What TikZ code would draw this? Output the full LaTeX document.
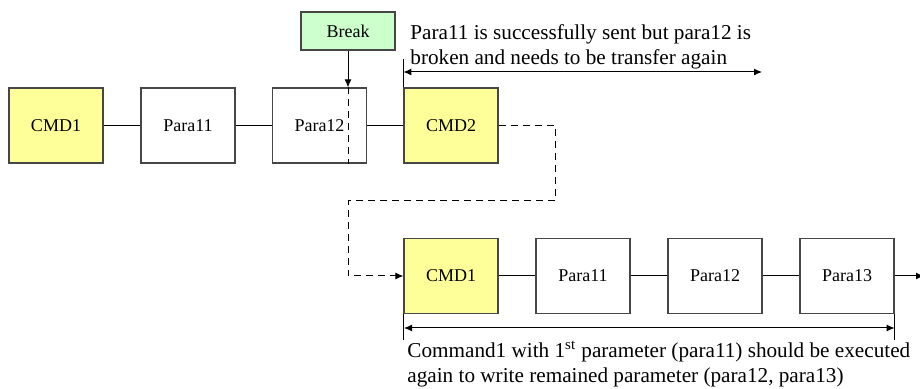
\documentclass[tikz,border=0pt]{standalone}
\usepackage{fontspec}
\setmainfont{Liberation Serif}
\usetikzlibrary{arrows.meta}

\definecolor{cmdyellow}{RGB}{255,255,153}
\definecolor{breakgreen}{RGB}{204,255,204}
\definecolor{boxedge}{RGB}{70,70,70}

\tikzset{
  parabox/.style={draw=boxedge, fill=white, line width=0.6pt, inner sep=0pt,
    minimum width=47pt, minimum height=37.5pt, font=\fontsize{9}{11}\selectfont},
  cmdbox/.style={parabox, fill=cmdyellow},
  breakbox/.style={parabox, fill=breakgreen, minimum height=19pt},
  link/.style={line width=0.5pt},
  resend/.style={line width=0.5pt, dash pattern=on 3.5pt off 2.5pt},
  span/.style={line width=0.5pt, {Latex[length=4pt,width=3.5pt]}-{Latex[length=4pt,width=3.5pt]}},
  note/.style={anchor=north west, align=left, inner sep=0pt, font=\fontsize{10.6}{12.5}\selectfont},
}

\begin{document}
\begin{tikzpicture}[x=0.5pt, y=-0.5pt]

\useasboundingbox ( 0, 0 ) rectangle ( 920, 389 );

% First transfer
\node [cmdbox]  (cmdA)  at ( 56, 125.5 ) {CMD1};
\node [parabox] (paraA) at ( 188, 125.5 ) {Para11};
\node [parabox] (paraB) at ( 319.5, 125.5 ) {Para12};
\node [cmdbox]  (cmdB)  at ( 451, 125.5 ) {CMD2};

\foreach \from/\to in {cmdA/paraA, paraA/paraB, paraB/cmdB}
  \draw [link] (\from) -- (\to);

% Break
\node [breakbox] (brk) at ( 348, 31 ) {Break};
\coordinate (cut) at (brk |- paraB.north);
\draw [link, -{Latex[length=4pt,width=3.5pt]}] (brk) -- (cut);
\draw [resend] (cut) -- (cut |- paraB.south);

% Second transfer
\node [cmdbox]  (cmdC)  at ( 451, 276 ) {CMD1};
\node [parabox] (paraC) at ( 583, 276 ) {Para11};
\node [parabox] (paraD) at ( 715, 276 ) {Para12};
\node [parabox] (paraE) at ( 847, 276 ) {Para13};

\foreach \from/\to in {cmdC/paraC, paraC/paraD, paraD/paraE}
  \draw [link] (\from) -- (\to);

\coordinate (tail) at ( 924, 276 );
\draw [link, -{Latex[length=4pt,width=3.5pt]}] (paraE) -- (tail);

% Resend path
\coordinate (turn) at ( 555, 201 );
\draw [resend, -{Latex[length=4pt,width=3.5pt]}] (cmdB.east) -| (turn) -- (cut |- turn) |- (cmdC.west);

% Spans
\coordinate (topEnd) at ( 762, 72 );
\draw [link] (cmdB.north west) -- ++( 0, -28 );
\draw [span] (cmdB.north west |- topEnd) -- (topEnd);

\coordinate (botL) at ( 404, 328 );
\draw [link] (cmdC.south west) -- ++( 0, 26 );
\draw [link] (paraE.south east) -- ++( 0, 26 );
\draw [span] (botL) -- (botL -| paraE.east);

% Labels
\node [note] (topnote) at ( 410, 24 ) {Para11 is successfully sent but para12 is\\broken and needs to be transfer again};
\node [note] (botnote) at ( 407, 341 ) {Command1 with 1\textsuperscript{st} parameter (para11) should be executed\\again to write remained parameter (para12, para13)};

\end{tikzpicture}
\end{document}
